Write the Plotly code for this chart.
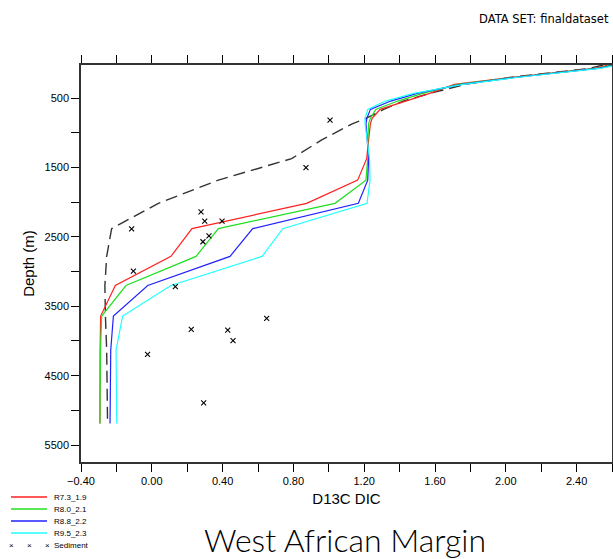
import plotly.graph_objects as go

# ---------------- data ----------------
depth = [20, 70, 200, 300, 430, 540, 660, 790, 865, 1100, 1370, 1680, 2015, 2380, 2780, 3200, 3640, 4130, 5190]

r73_19 = [2.58, 2.50, 2.03, 1.71, 1.57, 1.43, 1.29, 1.245, 1.235, 1.225, 1.214, 1.163, 0.875, 0.227, 0.108, -0.206, -0.289, -0.292, -0.293]
r80_21 = [2.60, 2.51, 2.04, 1.73, 1.53, 1.39, 1.265, 1.235, 1.225, 1.22, 1.22, 1.21, 1.035, 0.376, 0.25, -0.146, -0.283, -0.29, -0.293]
r88_22 = [2.62, 2.52, 2.05, 1.75, 1.50, 1.35, 1.235, 1.215, 1.21, 1.215, 1.225, 1.22, 1.167, 0.57, 0.442, -0.023, -0.217, -0.232, -0.236]
r95_23 = [2.63, 2.53, 2.06, 1.76, 1.48, 1.32, 1.22, 1.205, 1.205, 1.215, 1.23, 1.233, 1.216, 0.74, 0.623, 0.108, -0.165, -0.202, -0.198]
obs_profile = [2.55, 2.47, 2.02, 1.77, 1.57, 1.42, 1.31, 1.21, 1.135, 0.96, 0.79, 0.376, 0.037, -0.227, -0.255, -0.265, -0.262, -0.255, -0.25]

sed_d13c = [1.007, 0.871, 0.278, 0.299, 0.397, -0.114, 0.323, 0.289, -0.104, 0.133, 0.649, 0.223, 0.429, 0.459, -0.024, 0.293]
sed_depth = [816, 1499, 2138, 2272, 2272, 2382, 2483, 2569, 2993, 3217, 3674, 3832, 3842, 3996, 4192, 4891]

series_names = ["R7.3_1.9", "R8.0_2.1", "R8.8_2.2", "R9.5_2.3"]
series_colors = ["#ff2020", "#20e020", "#2020ff", "#20ffff"]

x_tickvals = [-0.4 + 0.2 * i for i in range(16)]
x_ticktext = [("−%.2f" % abs(v) if v < -1e-9 else "%.2f" % abs(v)) if i % 2 == 0 else "" for i, v in enumerate(x_tickvals)]
y_tickvals = [500 * i for i in range(1, 12)]
y_ticktext = [str(v) if (v // 500) % 2 == 1 else "" for v in y_tickvals]

font_main = "Liberation Sans, Arial, sans-serif"

fig = go.Figure()

fig.add_trace(go.Scatter(x=obs_profile, y=depth, mode="lines",
                         line=dict(color="#333333", width=1.4, dash="12px,6px"),
                         showlegend=False))
for vals, name, col in zip([r73_19, r80_21, r88_22, r95_23], series_names, series_colors):
    fig.add_trace(go.Scatter(x=vals, y=depth, mode="lines", name=name,
                             line=dict(color=col, width=1.2), showlegend=False))

fig.add_trace(go.Scatter(x=sed_d13c, y=sed_depth, mode="markers", name="Sediment",
                         marker=dict(symbol="x-thin", size=5, line=dict(color="black", width=1.1)),
                         showlegend=False))

# manual legend
PL, PR, PT, PB = 81, 612, 65, 462
def px(x):
    return (x - PL) / (PR - PL)
def py(y):
    return (PB - y) / (PB - PT)

leg_y = [497, 509, 521, 533]
shapes = []
annotations = []
for yy, name, col in zip(leg_y, series_names, series_colors):
    shapes.append(dict(type="line", xref="paper", yref="paper",
                       x0=px(11), x1=px(47), y0=py(yy), y1=py(yy),
                       line=dict(color=col, width=1.3)))
    annotations.append(dict(text=name, xref="paper", yref="paper",
                            x=px(52), y=py(yy),
                            xanchor="left", yanchor="middle", showarrow=False,
                            font=dict(family=font_main, size=8, color="black")))
for xx in [11, 29, 47]:
    annotations.append(dict(text="×", xref="paper", yref="paper",
                            x=px(xx), y=py(545),
                            xanchor="center", yanchor="middle", showarrow=False,
                            font=dict(family=font_main, size=8, color="black")))
annotations.append(dict(text="Sediment", xref="paper", yref="paper",
                        x=px(52), y=py(545),
                        xanchor="left", yanchor="middle", showarrow=False,
                        font=dict(family=font_main, size=8, color="black")))

annotations.append(dict(text="DATA SET: finaldataset", xref="paper", yref="paper",
                        x=px(611), y=py(19),
                        xanchor="right", yanchor="middle", showarrow=False,
                        font=dict(family="DejaVu Sans, sans-serif", size=11.5, color="black")))
annotations.append(dict(text="West African Margin", xref="paper", yref="paper",
                        x=px(345), y=py(539),
                        xanchor="center", yanchor="middle", showarrow=False,
                        font=dict(family="Lato, DejaVu Sans, sans-serif", size=32, color="black", weight=300)))

fig.update_layout(
    width=613, height=559,
    margin=dict(l=PL, r=613 - PR, t=PT, b=559 - PB),
    paper_bgcolor="white", plot_bgcolor="white",
    shapes=shapes, annotations=annotations,
    showlegend=False,
    xaxis=dict(range=[-0.4, 2.6], tickvals=x_tickvals, ticktext=x_ticktext,
               ticks="outside", ticklen=8, tickwidth=1.2, tickcolor="black",
               showline=True, linecolor="#333333", linewidth=1.5, mirror="ticks",
               showgrid=False, zeroline=False, automargin=False,
               tickfont=dict(family=font_main, size=11, color="black"),
               title=dict(text="D13C DIC", font=dict(family=font_main, size=15, color="black"), standoff=8)),
    yaxis=dict(range=[5745, 20], tickvals=y_tickvals, ticktext=y_ticktext,
               ticks="outside", ticklen=8, tickwidth=1.2, tickcolor="black",
               showline=True, linecolor="#333333", linewidth=1.5, mirror="ticks",
               showgrid=False, zeroline=False, automargin=False,
               tickfont=dict(family=font_main, size=11, color="black"),
               title=dict(text="Depth (m)", font=dict(family=font_main, size=15, color="black"), standoff=6)),
)

fig.write_html("out.html")
